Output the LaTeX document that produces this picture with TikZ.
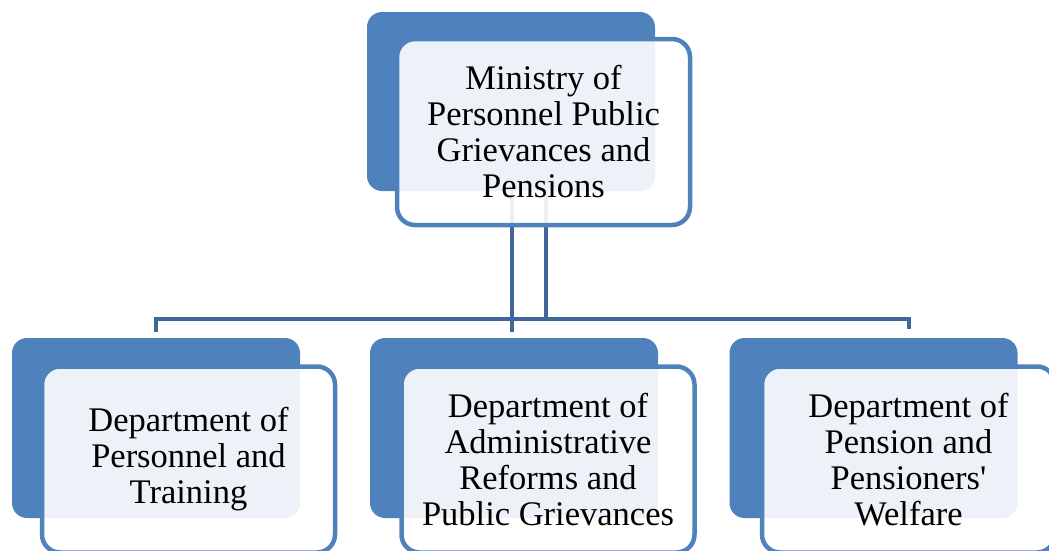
\documentclass[tikz,border=0pt]{standalone}
\usepackage{fontspec}
\setmainfont{Liberation Serif}
\usetikzlibrary{backgrounds}
\definecolor{boxblue}{HTML}{4F81BD}
\definecolor{connblue}{HTML}{3F6797}
\tikzset{
  backbox/.style={fill=boxblue, draw=none, rounded corners=15pt, minimum width=288pt, minimum height=180pt, inner sep=0pt},
  frontbox/.style={draw=boxblue, line width=4.5pt, fill=white, fill opacity=0.9, text opacity=1, rounded corners=18pt, minimum width=293pt, minimum height=186pt, inner sep=0pt, align=center, font=\fontsize{34.5}{36}\selectfont},
  conn/.style={draw=connblue, line width=4pt}
}
\begin{document}
\begin{tikzpicture}[x=1pt,y=-1pt]
\useasboundingbox (0,0) rectangle (1049,550);
\clip (0,0) rectangle (1049,550);
% top
\node[backbox, minimum height=179pt] (mBack) at (511,101.5) {};
\node[frontbox] (mFront) at (543.5,132) {Ministry of\\Personnel Public\\Grievances and\\Pensions};
% children
\node[backbox] (c1Back) at (156,428) {};
\node[frontbox] (c1Front) at (188.5,459.5) {Department of\\Personnel and\\Training};
\node[backbox] (c2Back) at (514,428) {};
\node[frontbox] (c2Front) at (548,459.5) {Department of\\Administrative\\Reforms and\\Public Grievances};
\node[backbox] (c3Back) at (873.5,428) {};
\node[frontbox] (c3Front) at (908.5,459.5) {Department of\\Pension and\\Pensioners\textquotesingle\\Welfare};
\coordinate (bus) at (546,319);
\begin{scope}[on background layer]
\draw[conn] ([xshift=1pt]mBack.center) -- ([xshift=1pt,yshift=6pt]mBack.center |- c2Back.north);
\draw[conn] ([xshift=35pt]mBack.center) -- (bus);
\draw[conn] ([yshift=6pt]c1Back.north) |- (bus) -| ([yshift=35pt]c3Front.north);
\end{scope}
\end{tikzpicture}
\end{document}
